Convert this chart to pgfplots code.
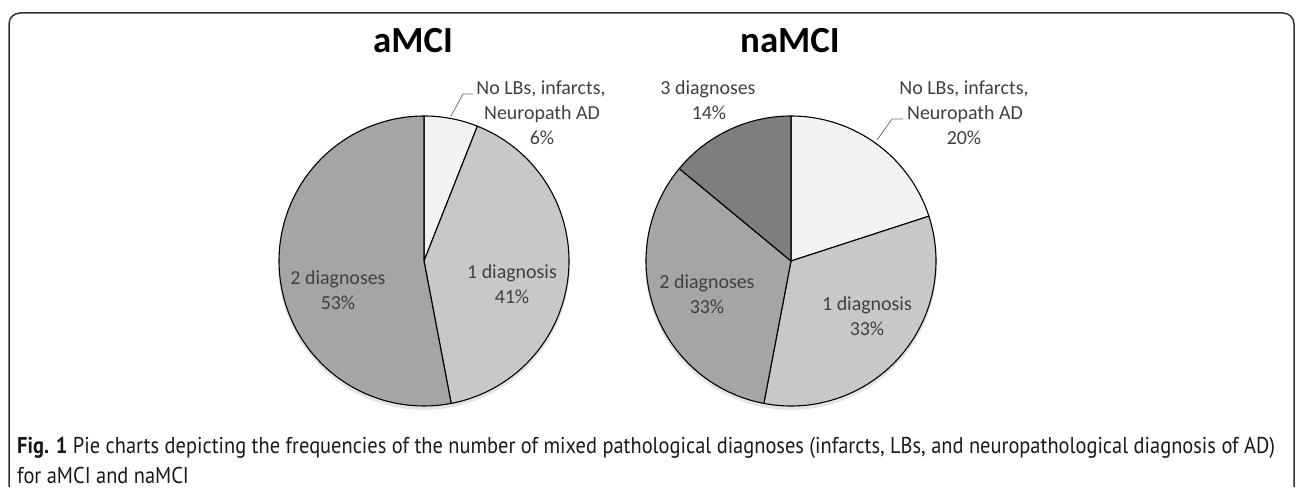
\documentclass[border=0pt]{standalone}
\usepackage{pgfplots}
\pgfplotsset{compat=1.18}
\usepackage{fontspec}
\usepackage{graphicx}
\setmainfont{Carlito}
\newfontfamily\capfont{PT Sans}
\definecolor{cA}{HTML}{F2F2F2}
\definecolor{cB}{HTML}{C8C8C8}
\definecolor{cC}{HTML}{A5A5A5}
\definecolor{cD}{HTML}{7E7E7E}
\definecolor{lbl}{HTML}{404040}
\definecolor{frame}{HTML}{333333}
% #1 cx, #2 cy, #3 radius, #4 start (cumulative %), #5 end (cumulative %), #6 colour
\newcommand{\slice}[6]{%
  \addplot[fill=#6, draw=black, line width=1.1bp, line join=round,
    domain={#4*3.6}:{#5*3.6}, samples=90]
    ({#1+#3*sin(x)},{#2+#3*cos(x)}) -- (axis cs:#1,#2) -- cycle;}
\newcommand{\shadow}[3]{%
  \addplot[fill=black, opacity=0.10, draw=none, domain=0:360, samples=120]
    ({#1+(#3+1)*sin(x)},{#2-3+(#3+1)*cos(x)});}
\newcommand{\capline}{\textbf{Fig. 1} Pie charts depicting the frequencies of the number of mixed pathological diagnoses (infarcts, LBs, and neuropathological diagnosis of AD)}
\newlength\capw
\begin{document}%
\settowidth{\capw}{\fontsize{23}{28}\selectfont\capfont\capline}%
\pgfmathsetmacro\capsx{1262.7/\capw}%
\begin{tikzpicture}
\begin{axis}[width=1296bp, height=487bp, scale only axis,
  xmin=0, xmax=1296, ymin=0, ymax=487, hide axis, clip=false]
\path (axis cs:0,0) rectangle (axis cs:1296,487);
% frame
\draw[line width=1.5bp, color=frame, rounded corners=11bp]
  (axis cs:9,0) -- (axis cs:9,474) -- (axis cs:1294,474) -- (axis cs:1294,0);
% ---- aMCI : No LBs 6%, 1 diagnosis 41%, 2 diagnoses 53%
\shadow{424}{226}{145}
\slice{424}{226}{145}{0}{6}{cA}
\slice{424}{226}{145}{6}{47}{cB}
\slice{424}{226}{145}{47}{100}{cC}
% ---- naMCI : No LBs 20%, 1 diagnosis 33%, 2 diagnoses 33%, 3 diagnoses 14%
\shadow{791}{226}{145}
\slice{791}{226}{145}{0}{20}{cA}
\slice{791}{226}{145}{20}{53}{cB}
\slice{791}{226}{145}{53}{86}{cC}
\slice{791}{226}{145}{86}{100}{cD}
% titles
\node[font=\fontsize{37}{44}\selectfont\bfseries, anchor=base, inner sep=0pt] at (axis cs:413,434) {aMCI};
\node[font=\fontsize{37}{44}\selectfont\bfseries, anchor=base, inner sep=0pt] at (axis cs:790,434) {naMCI};
% labels
\begin{scope}[every node/.style={font=\fontsize{20}{24}\selectfont, text=lbl, anchor=base, inner sep=0pt}]
\node at (axis cs:541,392) {No LBs, infarcts,};
\node at (axis cs:542,367) {Neuropath AD};
\node at (axis cs:542,342) {6\%};
\node at (axis cs:512,208) {1 diagnosis};
\node at (axis cs:512,183) {41\%};
\node at (axis cs:338,202) {2 diagnoses};
\node at (axis cs:338,177) {53\%};
\node at (axis cs:708,392) {3 diagnoses};
\node at (axis cs:709,367) {14\%};
\node at (axis cs:964,392) {No LBs, infarcts,};
\node at (axis cs:965,367) {Neuropath AD};
\node at (axis cs:964,342) {20\%};
\node at (axis cs:707,198) {2 diagnoses};
\node at (axis cs:707,173) {33\%};
\node at (axis cs:867,176) {1 diagnosis};
\node at (axis cs:867,152) {33\%};
\end{scope}
% leader lines
\draw[line width=0.8bp, color=black!55] (axis cs:473,393) -- (axis cs:463,393) -- (axis cs:451,371);
\draw[line width=0.8bp, color=black!55] (axis cs:903,368) -- (axis cs:892,368) -- (axis cs:877,347);
% caption
\node[anchor=base west, inner sep=0pt, text=black!90] at (axis cs:17,34)
  {\scalebox{\capsx}[1]{\fontsize{23}{28}\selectfont\capfont\capline}};
\node[anchor=base west, inner sep=0pt, text=black!90] at (axis cs:17,4)
  {\scalebox{\capsx}[1]{\fontsize{23}{28}\selectfont\capfont for aMCI and naMCI}};
\end{axis}
\end{tikzpicture}%
\end{document}
